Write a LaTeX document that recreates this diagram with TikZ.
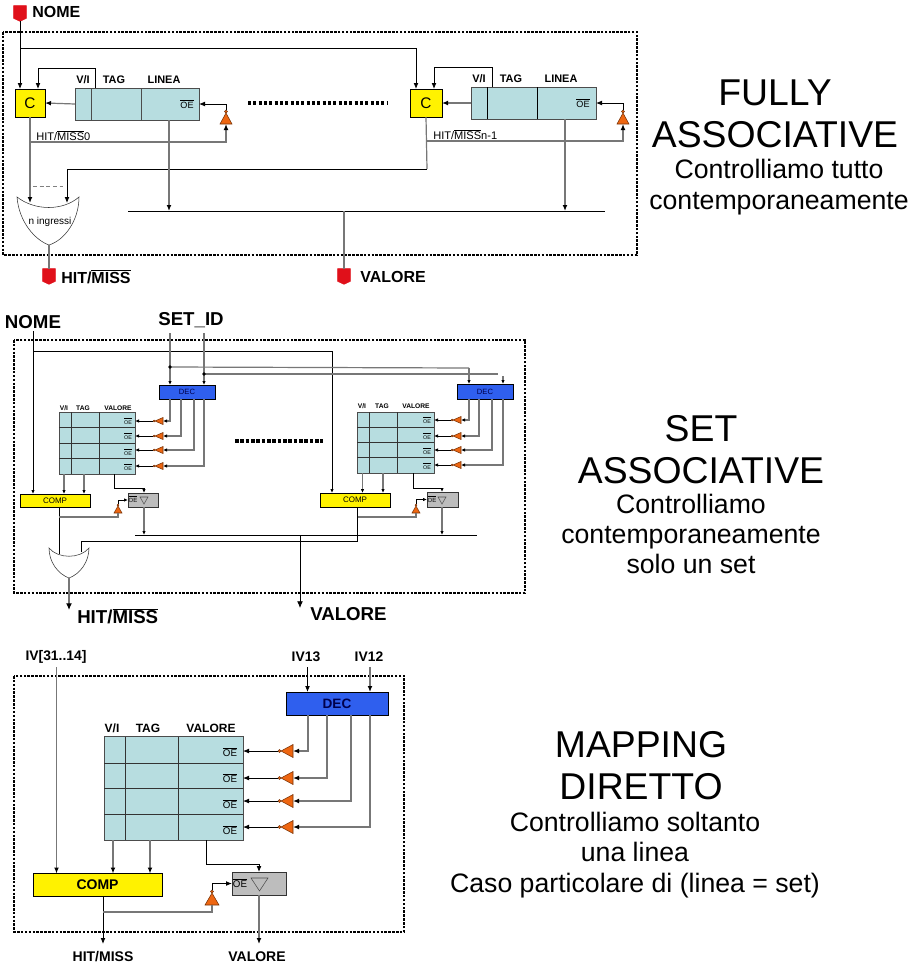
\documentclass[tikz,border=0pt]{standalone}
\usepackage{fontspec}
\setmainfont{Liberation Sans}
\usetikzlibrary{positioning,arrows.meta,shapes.geometric,shapes.symbols}

\definecolor{memfill}{HTML}{B7DDE0}
\definecolor{decfill}{HTML}{2F5FEE}
\definecolor{invfill}{HTML}{EE6611}
\definecolor{pinfill}{HTML}{E0101A}
\definecolor{oefill}{HTML}{BDBDBD}
\definecolor{wiregray}{HTML}{777777}
\newcommand{\negato}[1]{$\overline{\mbox{#1}}$}

\tikzset{
  box/.style 2 args={draw, rectangle, inner sep=0pt, outer sep=0pt, minimum width=#1*0.75pt, minimum height=#2*0.75pt},
  memory/.style 2 args={box={#1}{#2}, fill=memfill, draw=black!70},
  comparator/.style 2 args={box={#1}{#2}, fill=yellow},
  decoder/.style 2 args={box={#1}{#2}, fill=decfill, text=blue!30!black},
  oebox/.style 2 args={box={#1}{#2}, fill=oefill, draw=black!80},
  inv/.style n args={3}{draw=black!50!invfill, fill=invfill, isosceles triangle, isosceles triangle stretches,
    inner sep=0pt, outer sep=0pt, shape border rotate=#1, minimum width=#2*0.75pt, minimum height=#3*0.75pt},
  bub/.style={draw=black!50!invfill, fill=invfill, circle, inner sep=0pt, outer sep=0pt, minimum size=2.2pt},
  opentri/.style 2 args={draw=black!70, isosceles triangle, isosceles triangle stretches, inner sep=0pt, outer sep=0pt,
    shape border rotate=270, minimum width=#1*0.75pt, minimum height=#2*0.75pt},
  pin/.style={draw=pinfill, fill=pinfill, signal, signal to=south, signal from=nowhere, signal pointer angle=130,
    inner sep=0pt, outer sep=0pt, minimum width=9.5pt, minimum height=9.5pt},
  lab/.style={inner sep=0pt, font=\bfseries\fontsize{#1}{#1}\selectfont},
  plain/.style={inner sep=0pt, font=\fontsize{#1}{#1}\selectfont},
  titlebig/.style={inner sep=0pt, align=center, font=\fontsize{28}{31.5}\selectfont},
  titlesub/.style={inner sep=0pt, align=center, font=\fontsize{20}{22.8}\selectfont},
  frame/.style={draw, line width=1.9pt, dash pattern=on 1.9pt off 1pt},
  wire/.style={draw=black, line width=0.6pt},
  gwire/.style={draw=wiregray, line width=0.9pt},
  dots/.style={line width=2.3pt, dash pattern=on 2.3pt off 1.7pt}
}

\begin{document}
\begin{tikzpicture}[x=0.75pt, y=-0.75pt, >={Latex[length=4.5pt,width=3.6pt,color=black]}]
  \useasboundingbox (0,0) rectangle (911,968);

  % fully associative
  \draw[frame] (3,32) rectangle (637,255);
  \node[pin] (pinNome) at (20,12) {};
  \node[lab=12, anchor=west] (lblNomeA) at (32,12) {NOME};
  \node[comparator={30}{28}] (cA) at (30,103) {\fontsize{11.5}{11.5}\selectfont C};
  \node[comparator={32}{28}] (cB) at (426,103) {\fontsize{11.5}{11.5}\selectfont C};
  \node[memory={124}{32}] (storA) at (137,104) {};
  \node[memory={125}{32}] (storB) at (533.5,103) {};
  \draw[black!70] (91,88) -- (91,120) (141,88) -- (141,120);
  \draw[black] (487,87) -- (487,119) (537,87) -- (537,119);
  \node[lab=8.2] (lblViA) at (83,80) {V/I};
  \node[lab=8.2] (lblTagA) at (114,80) {TAG};
  \node[lab=8.2] (lblLineaA) at (164,80) {LINEA};
  \node[lab=8.2] (lblViB) at (479,79) {V/I};
  \node[lab=8.2] (lblTagB) at (511,79) {TAG};
  \node[lab=8.2] (lblLineaB) at (561,79) {LINEA};
  \node[plain=6.8] (oeA) at (187,104) {\negato{OE}};
  \node[plain=6.8] (oeB) at (583,103) {\negato{OE}};
  \node[plain=8.3, anchor=west] (lblHitA) at (36,135.5) {HIT/\negato{MISS}0};
  \node[plain=8.3, anchor=west] (lblHitB) at (433,134.5) {HIT/\negato{MISS}n-1};

  \node[inv={90}{12}{11}, anchor=lower side] (invA) at (226,124) {};
  \node[bub, anchor=south] (bubA) at (invA.apex) {};
  \node[inv={90}{12}{11}, anchor=lower side] (invB) at (623,124) {};
  \node[bub, anchor=south] (bubB) at (invB.apex) {};

  % or gate with n inputs
  \draw[draw=black!80, fill=white] (17,197) .. controls (35,211) and (63,211) .. (79,197)
    .. controls (79,220) and (65,240) .. (49,245) .. controls (35,240) and (19,222) .. cycle;
  \node[plain=7.5] (lblIngressi) at (50,222) {n ingressi};
  \coordinate (orAa) at (30,203);
  \coordinate (orAb) at (67,203);
  \coordinate (orAout) at (49,245);
  \node[pin] (pinHitA) at (49,275) {};
  \node[lab=12, anchor=west] (lblHitOutA) at (61,277) {HIT/\negato{MISS}};
  \node[pin] (pinValA) at (344,275) {};
  \node[lab=12, anchor=west] (lblValA) at (360,277) {VALORE};

  \coordinate (busAl) at (128,211);
  \coordinate (busAr) at (605,211);
  \coordinate (busAv) at (344,211);
  \coordinate (nomeTurn) at (20,48);
  \coordinate (nomeEnd) at (416,89);
  \coordinate (fbAa) at (95,88);
  \coordinate (fbAb) at (95,68);
  \coordinate (fbAc) at (38,89);
  \coordinate (fbBa) at (492,87);
  \coordinate (fbBb) at (492,67);
  \coordinate (fbBc) at (434,89);
  \coordinate (orBk) at (427,169);
  \coordinate (hitAt) at (30,142);
  \coordinate (hitBt) at (427,141);
  \coordinate (linA) at (169,120);
  \coordinate (linB) at (565,119);
  \coordinate (gapA) at (33,186);
  \coordinate (gapB) at (63,186);
  \coordinate (dotsAa) at (248,103);
  \coordinate (dotsAb) at (388,103);

  \draw[wire, ->] (pinNome.south) -- (pinNome.south |- cA.north);
  \draw[wire, ->] (nomeTurn) -| (nomeEnd);
  \draw[wire, ->] (fbAa) -- (fbAb) -| (fbAc);
  \draw[wire, ->] (fbBa) -- (fbBb) -| (fbBc);
  \draw[gwire, ->] (storA.west) -- (cA.east);
  \draw[gwire, ->] (storB.west) -- (storB.west -| cB.east);
  \draw[gwire, ->] (cA.south) -- (orAa);
  \draw[gwire, ->] (hitAt) -| (invA.lower side);
  \draw[gwire, ->] (hitBt) -| (invB.lower side);
  \draw[wire, ->] (bubA.north) |- (storA.east);
  \draw[wire, ->] (bubB.north) |- (storB.east);
  \draw[gwire] (cB.south) -- (orBk);
  \draw[wire, ->] (orBk) -| (orAb);
  \draw[gwire, ->] (linA) -- (linA |- busAl);
  \draw[gwire, ->] (linB) -- (linB |- busAr);
  \draw[wire] (busAl) -- (busAr);
  \draw[gwire] (busAv) -- (pinValA.north);
  \draw[gwire] (orAout) -- (pinHitA.north);
  \draw[black!50, densely dashed, line width=0.3pt] (gapA) -- (gapB);
  \draw[dots] (dotsAa) -- (dotsAb);

  \node[titlebig] (titleFully) at (775,114) {FULLY\\ASSOCIATIVE};
  \node[titlesub] (subFully) at (779,187) {Controlliamo tutto\\contemporaneamente};

  % set associative
  \begin{scope}[>={Latex[length=3pt,width=2.6pt,color=black]}]
  \draw[frame] (14,340) rectangle (525,593);
  \node[lab=14] (lblNomeB) at (33,322) {NOME};
  \node[lab=14] (lblSetId) at (191,320) {SET\_ID};
  \node[decoder={56}{14}, font=\fontsize{5.7}{5.7}\selectfont] (decA) at (187,392) {DEC};
  \node[decoder={56}{15}, font=\fontsize{5.7}{5.7}\selectfont] (decB) at (485,391.5) {DEC};
  \node[memory={76}{62}] (memA) at (97,443) {};
  \node[memory={77}{61}] (memB) at (395.5,442.5) {};
  \foreach \yy in {427,443,458} \draw[black!80] (memA.west |- 0,\yy) -- (memA.east |- 0,\yy);
  \foreach \yy in {427,442,457} \draw[black!80] (memB.west |- 0,\yy) -- (memB.east |- 0,\yy);
  \draw[black!80] (71,412) -- (71,474) (99,412) -- (99,474);
  \draw[black!80] (369,412) -- (369,473) (397,412) -- (397,473);
  \node[lab=5] (lblViC) at (64,408) {V/I};
  \node[lab=5] (lblTagC) at (83,408) {TAG};
  \node[lab=5] (lblValC) at (118,408) {VALORE};
  \node[lab=5] (lblViD) at (362,406) {V/I};
  \node[lab=5] (lblTagD) at (382,406) {TAG};
  \node[lab=5] (lblValD) at (416,406) {VALORE};
  \node[comparator={70}{13}, font=\fontsize{6}{6}\selectfont] (compA) at (55,500.5) {COMP};
  \node[comparator={70}{14}, font=\fontsize{6}{6}\selectfont] (compB) at (355,500) {COMP};
  \node[oebox={30}{14}] (oeBoxA) at (143,500) {};
  \node[oebox={31}{15}] (oeBoxB) at (442.5,499.5) {};
  \node[plain=4.5] (oeBoxAt) at (133,499) {\negato{OE}};
  \node[plain=4.5] (oeBoxBt) at (432,499) {\negato{OE}};
  \node[opentri={8}{7}, anchor=apex] (triA) at (144,504) {};
  \node[opentri={8}{7}, anchor=apex] (triB) at (442,504) {};

  \foreach \i/\yy/\xx/\oo in {1/421/170/421,2/436/181/436,3/450/194/452,4/466/204/467} {
    \node[plain=4] (oeA\i) at (128,\oo) {\negato{OE}};
    \node[inv={180}{7}{8}, anchor=lower side] (invA\i) at (163,\yy) {};
    \node[bub, minimum size=1.4pt, anchor=east] (bubA\i) at (invA\i.apex) {};
    \coordinate (decAo\i) at (\xx,399);
    \draw[wire, ->] (bubA\i.west) -- (bubA\i.west -| memA.east);
    \draw[gwire, ->] (decAo\i) |- (invA\i.lower side);
  }
  \foreach \i/\yy/\xx/\oo in {1/420/469/420,2/436/479/436,3/450/492/451,4/465/503/466} {
    \node[plain=4] (oeB\i) at (427,\oo) {\negato{OE}};
    \node[inv={180}{7}{8}, anchor=lower side] (invB\i) at (461,\yy) {};
    \node[bub, minimum size=1.4pt, anchor=east] (bubB\i) at (invB\i.apex) {};
    \coordinate (decBo\i) at (\xx,399);
    \draw[wire, ->] (bubB\i.west) -- (bubB\i.west -| memB.east);
    \draw[gwire, ->] (decBo\i) |- (invB\i.lower side);
  }
  \node[inv={90}{8}{7}, anchor=lower side] (invC) at (118,513) {};
  \node[bub, minimum size=1.4pt, anchor=south] (bubC) at (invC.apex) {};
  \node[inv={90}{8}{7}, anchor=lower side] (invD) at (416,513) {};
  \node[bub, minimum size=1.4pt, anchor=south] (bubD) at (invD.apex) {};

  % or gate, two inputs
  \draw[draw=black!80, fill=white] (49,548) .. controls (58,559) and (80,559) .. (89,548)
    .. controls (89,562) and (80,574) .. (69,578) .. controls (58,574) and (49,562) .. cycle;
  \coordinate (orBa) at (59,554);
  \coordinate (orBb) at (81,552);
  \coordinate (orBout) at (69,578);
  \coordinate (orBend) at (69,610);
  \node[lab=14, anchor=west] (lblHitOutB) at (77,616) {HIT/\negato{MISS}};
  \node[lab=14, anchor=west] (lblValOutB) at (310,614) {VALORE};

  \coordinate (nomeA) at (33,331);
  \coordinate (nomeB) at (33,351);
  \coordinate (nomeC) at (332,493);
  \coordinate (setA) at (170,333);
  \coordinate (setB) at (204,333);
  \coordinate (tapA) at (170,367);
  \coordinate (tapB) at (204,374);
  \coordinate (tapAe) at (469,368);
  \coordinate (tapBe) at (498,374);
  \coordinate (stubA) at (503,376);
  \coordinate (stubB) at (503,384);
  \coordinate (busBl) at (135,535);
  \coordinate (busBr) at (477,535);
  \coordinate (busBv) at (300,535);
  \coordinate (busBend) at (300,608);
  \coordinate (wideA) at (357.5,541);
  \coordinate (hitC) at (59,517);
  \coordinate (hitD) at (357.5,517);
  \coordinate (valCa) at (114.5,474);
  \coordinate (valCb) at (144,488);
  \coordinate (valCc) at (144,493);
  \coordinate (valDa) at (413.5,473);
  \coordinate (valDb) at (442,488);
  \coordinate (valDc) at (442,492);
  \coordinate (dotsBa) at (235,441);
  \coordinate (dotsBb) at (323,441);

  \draw[wire, ->] (nomeA) -- (nomeA |- compA.north);
  \draw[wire, ->] (nomeB) -| (nomeC);
  \draw[gwire, ->] (setA) -- (setA |- decA.north);
  \draw[gwire, ->] (setB) -- (setB |- decA.north);
  \draw[gwire] (tapA) -- (tapAe);
  \draw[gwire, ->] (tapAe) -- (tapAe |- decB.north);
  \draw[gwire] (tapB) -- (tapBe);
  \draw[gwire, ->] (stubA) -- (stubB);
  \fill (tapA) circle (1.4pt) (tapB) circle (1.4pt);
  \draw[gwire, ->] (64,474) -- (64,494);
  \draw[gwire, ->] (84,474) -- (84,494);
  \draw[gwire, ->] (362.5,473) -- (362.5,493);
  \draw[gwire, ->] (383,473) -- (383,493);
  \draw[wire] (valCa) |- (valCb);
  \draw[wire, ->] (valCb) -- (valCc);
  \draw[wire] (valDa) |- (valDb);
  \draw[wire, ->] (valDb) -- (valDc);
  \draw[wire] (hitC |- compA.south) -- (orBa);
  \draw[gwire] (hitC) -| (invC.lower side);
  \draw[gwire] (hitD) -| (invD.lower side);
  \draw[wire, ->] (bubC.north) |- (oeBoxA.west);
  \draw[wire, ->] (bubD.north) |- (oeBoxB.west);
  \draw[gwire, ->] (triA.apex |- oeBoxA.south) -- (triA.apex |- busBl);
  \draw[gwire, ->] (triB.apex |- oeBoxB.south) -- (triB.apex |- busBr);
  \draw[wire] (busBl) -- (busBr);
  \draw[wire] (orBb) |- (wideA) -- (wideA |- compB.south);
  \draw[wire, ->, >={Latex[length=5pt,width=4.4pt]}] (busBv) -- (busBend);
  \draw[gwire, ->, >={Latex[length=5pt,width=4.4pt,color=black]}] (orBout) -- (orBend);
  \draw[dots, line width=2.8pt, dash pattern=on 2.8pt off 1.2pt] (dotsBa) -- (dotsBb);
  \end{scope}

  \node[titlebig] (titleSet) at (701,450) {SET\\ASSOCIATIVE};
  \node[titlesub] (subSet) at (691,534) {Controlliamo\\contemporaneamente\\solo un set};

  % mapping diretto
  \draw[frame] (14,676) rectangle (404,932);
  \node[lab=10.4] (lblIvTop) at (56,657) {IV[31..14]};
  \node[lab=10.4] (lblIvA) at (306,657) {IV13};
  \node[lab=10.4] (lblIvB) at (369,657) {IV12};
  \node[decoder={102}{23}, font=\bfseries\fontsize{10.2}{10.2}\selectfont] (decC) at (337,703.5) {DEC};
  \node[memory={139}{103.5}] (memC) at (173.5,788.25) {};
  \foreach \yy in {763,788.5,814.5} \draw[black!80] (memC.west |- 0,\yy) -- (memC.east |- 0,\yy);
  \draw[black!80] (125,736.5) -- (125,840) (178,736.5) -- (178,840);
  \node[lab=9] (lblViE) at (112,728) {V/I};
  \node[lab=9] (lblTagE) at (148,728) {TAG};
  \node[lab=9] (lblValE) at (211,728) {VALORE};
  \node[comparator={129}{22.5}, font=\bfseries\fontsize{10.5}{10.5}\selectfont] (compC) at (97.5,884.75) {COMP};
  \node[oebox={54}{23}] (oeBoxC) at (259,883.5) {};
  \node[plain=7.3] (oeBoxCt) at (240,883) {\negato{OE}};
  \node[opentri={17}{13}, anchor=apex] (triC) at (259.5,891) {};
  \node[lab=10.5] (lblHitOutC) at (103,957) {HIT/MISS};
  \node[lab=10.5] (lblValOutC) at (257,957) {VALORE};

  \foreach \i/\yy/\xx/\oo in {1/751/308/752,2/778/327/778,3/801/351/804,4/827/370/830} {
    \node[plain=7.3] (oeC\i) at (230,\oo) {\negato{OE}};
    \node[inv={180}{13}{12}, anchor=lower side] (invC\i) at (293,\yy) {};
    \node[bub, anchor=east] (bubC\i) at (invC\i.apex) {};
    \coordinate (decCo\i) at (\xx,715);
    \draw[wire, ->] (bubC\i.west) -- (bubC\i.west -| memC.east);
    \draw[gwire, ->] (decCo\i) |- (invC\i.lower side);
  }
  \node[inv={90}{14}{12}, anchor=lower side] (invE) at (212,905) {};
  \node[bub, anchor=south] (bubE) at (invE.apex) {};

  \coordinate (ivTopA) at (56.5,667);
  \coordinate (ivA) at (307.5,667);
  \coordinate (ivB) at (370,667);
  \coordinate (outE) at (103,896);
  \coordinate (outEe) at (103,944);
  \coordinate (hitE) at (103,912);
  \coordinate (valEa) at (206,840);
  \coordinate (valEb) at (259,864);
  \coordinate (valEc) at (259,872);
  \coordinate (valEe) at (259,944);

  \draw[gwire, ->] (ivTopA) -- (ivTopA |- compC.north);
  \draw[wire, ->] (ivA) -- (ivA |- decC.north);
  \draw[gwire, ->] (ivB) -- (ivB |- decC.north);
  \draw[gwire, ->] (113,840) -- (113,873.5);
  \draw[gwire, ->] (150,840) -- (150,873.5);
  \draw[wire] (valEa) |- (valEb);
  \draw[wire, ->] (valEb) -- (valEc);
  \draw[wire, ->] (outE) -- (outEe);
  \draw[gwire] (hitE) -| (invE.lower side);
  \draw[wire, ->] (bubE.north) |- (oeBoxC.west);
  \draw[gwire, ->] (valEb |- oeBoxC.south) -- (valEe);

  \node[titlebig] (titleMap) at (641,766) {MAPPING\\DIRETTO};
  \node[titlesub] (subMap) at (635,855) {Controlliamo soltanto\\una linea\\Caso particolare di (linea = set)};
\end{tikzpicture}
\end{document}
